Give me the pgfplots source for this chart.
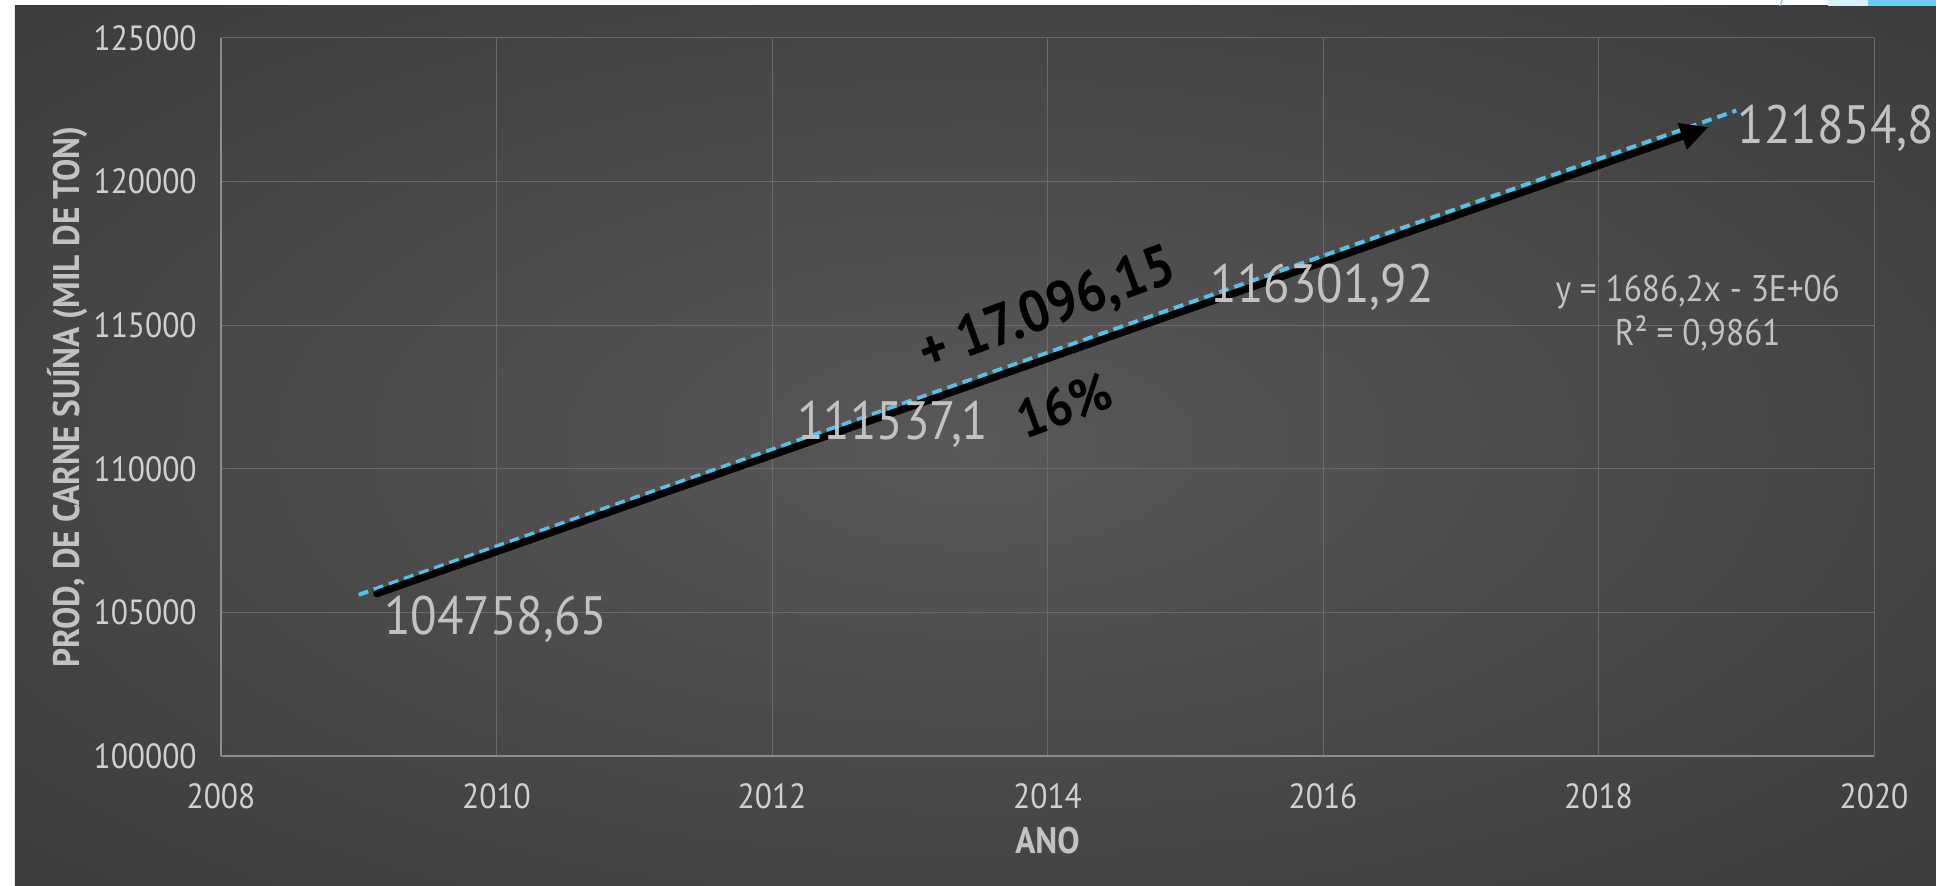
\documentclass[border=0pt]{standalone}
\usepackage{pgfplots}
\pgfplotsset{compat=1.18}
\usepackage{fontspec}
\setmainfont{PT Sans}[FakeStretch=0.9]
\usetikzlibrary{arrows.meta}

\definecolor{bgin}{HTML}{585858}
\definecolor{bgmid}{HTML}{303030}
\definecolor{bgout}{HTML}{242424}
\definecolor{ticktxt}{HTML}{D0D0D0}
\definecolor{labtxt}{HTML}{C2C2C2}
\definecolor{gridc}{HTML}{6A6A6A}
\definecolor{axisc}{HTML}{8C8C8C}
\definecolor{trend}{HTML}{4EC4EC}
\definecolor{swlight}{HTML}{D8F2FB}
\definecolor{swdark}{HTML}{6CCDF0}
\pgfdeclareradialshading{bgshade}{\pgfpoint{0bp}{0bp}}{color(0bp)=(bgin); color(50bp)=(bgmid); color(72bp)=(bgout)}

\begin{document}
\begin{tikzpicture}
% slide background (1px = 0.5pt, axis corner at origin)
\fill[white] (-110.5pt,-65pt) rectangle (857.5pt,378pt);
\shade[shading=bgshade] (-103pt,-65pt) rectangle (857.5pt,375pt);
\fill[swlight] (803.5pt,375pt) rectangle (857.5pt,378pt);
\fill[swdark] (823.5pt,375pt) rectangle (857.5pt,378pt);
\draw[swdark, line width=0.6pt] (779.5pt,375pt) -- (780.5pt,378pt);

\begin{axis}[
  scale only axis,
  width=826.5pt, height=359pt,
  xmin=2008, xmax=2020,
  ymin=100000, ymax=125000,
  xtick={2008,2010,2012,2014,2016,2018,2020},
  xticklabels={2008,2010,2012,2014,2016,2018,2020},
  ytick={100000,105000,110000,115000,120000,125000},
  yticklabels={100000,105000,110000,115000,120000,125000},
  scaled y ticks=false,
  axis lines=left,
  axis line style={-, draw=axisc, line width=0.8pt},
  major tick length=0pt,
  grid=major,
  major grid style={draw=gridc, line width=0.5pt},
  tick label style={inner sep=0pt, text=ticktxt, font=\fontsize{17.5}{21}\selectfont},
  xticklabel style={yshift=-13.5pt},
  yticklabel style={xshift=-12pt},
  xlabel={ANO},
  ylabel={PROD, DE CARNE SUÍNA (MIL DE TON)},
  label style={text=labtxt, font=\bfseries\fontsize{18.5}{22}\selectfont},
  xlabel style={at={(axis description cs:0.5,-0.1184)}, anchor=center},
  ylabel style={at={(axis description cs:-0.0926,0.5)}, anchor=center},
  clip=false,
]

% data labels
\addplot[draw=none, mark=none, nodes near coords, point meta=explicit symbolic,
  every node near coord/.append style={anchor=west, xshift=12.5pt, inner sep=0pt,
    text=labtxt, font=\fontsize{27}{31}\selectfont}]
  table[meta=lab] {
x y lab
2009 104758.65 104758,65
2012 111537.1 111537,1
2015 116301.92 116301,92
};
\addplot[draw=none, mark=none, nodes near coords, point meta=explicit symbolic,
  every node near coord/.append style={anchor=west, xshift=0.5pt, inner sep=0pt,
    text=labtxt, font=\fontsize{27}{31}\selectfont}]
  table[meta=lab] {
x y lab
2019 121854.8 121854,8
};

% linear trendline
\addplot[trend, line width=2pt, dash pattern=on 5pt off 3pt, mark=none]
  coordinates {(2009,105612) (2019,122474)};

% arrow and notes
\draw[line width=3.6pt, line cap=round, -{Triangle[length=14pt,width=13pt]}]
  (axis cs:2009.13,105650) -- (axis cs:2018.8,121900);
\node[rotate=20, font=\bfseries\fontsize{29}{33}\selectfont, text=black]
  at (axis cs:2014.0,115494) {+ 17.096,15};
\node[rotate=20, font=\bfseries\fontsize{27}{31}\selectfont, text=black]
  at (axis cs:2014.12,112222) {16\%};
\node[align=center, text=labtxt, font=\fontsize{18.5}{22}\selectfont]
  at (axis cs:2018.72,115408) {y = 1686,2x - 3E+06\\R² = 0,9861};
\end{axis}
\pgfresetboundingbox
\path[use as bounding box] (-110.5pt,-65pt) rectangle (857.5pt,378pt);
\end{tikzpicture}
\end{document}
